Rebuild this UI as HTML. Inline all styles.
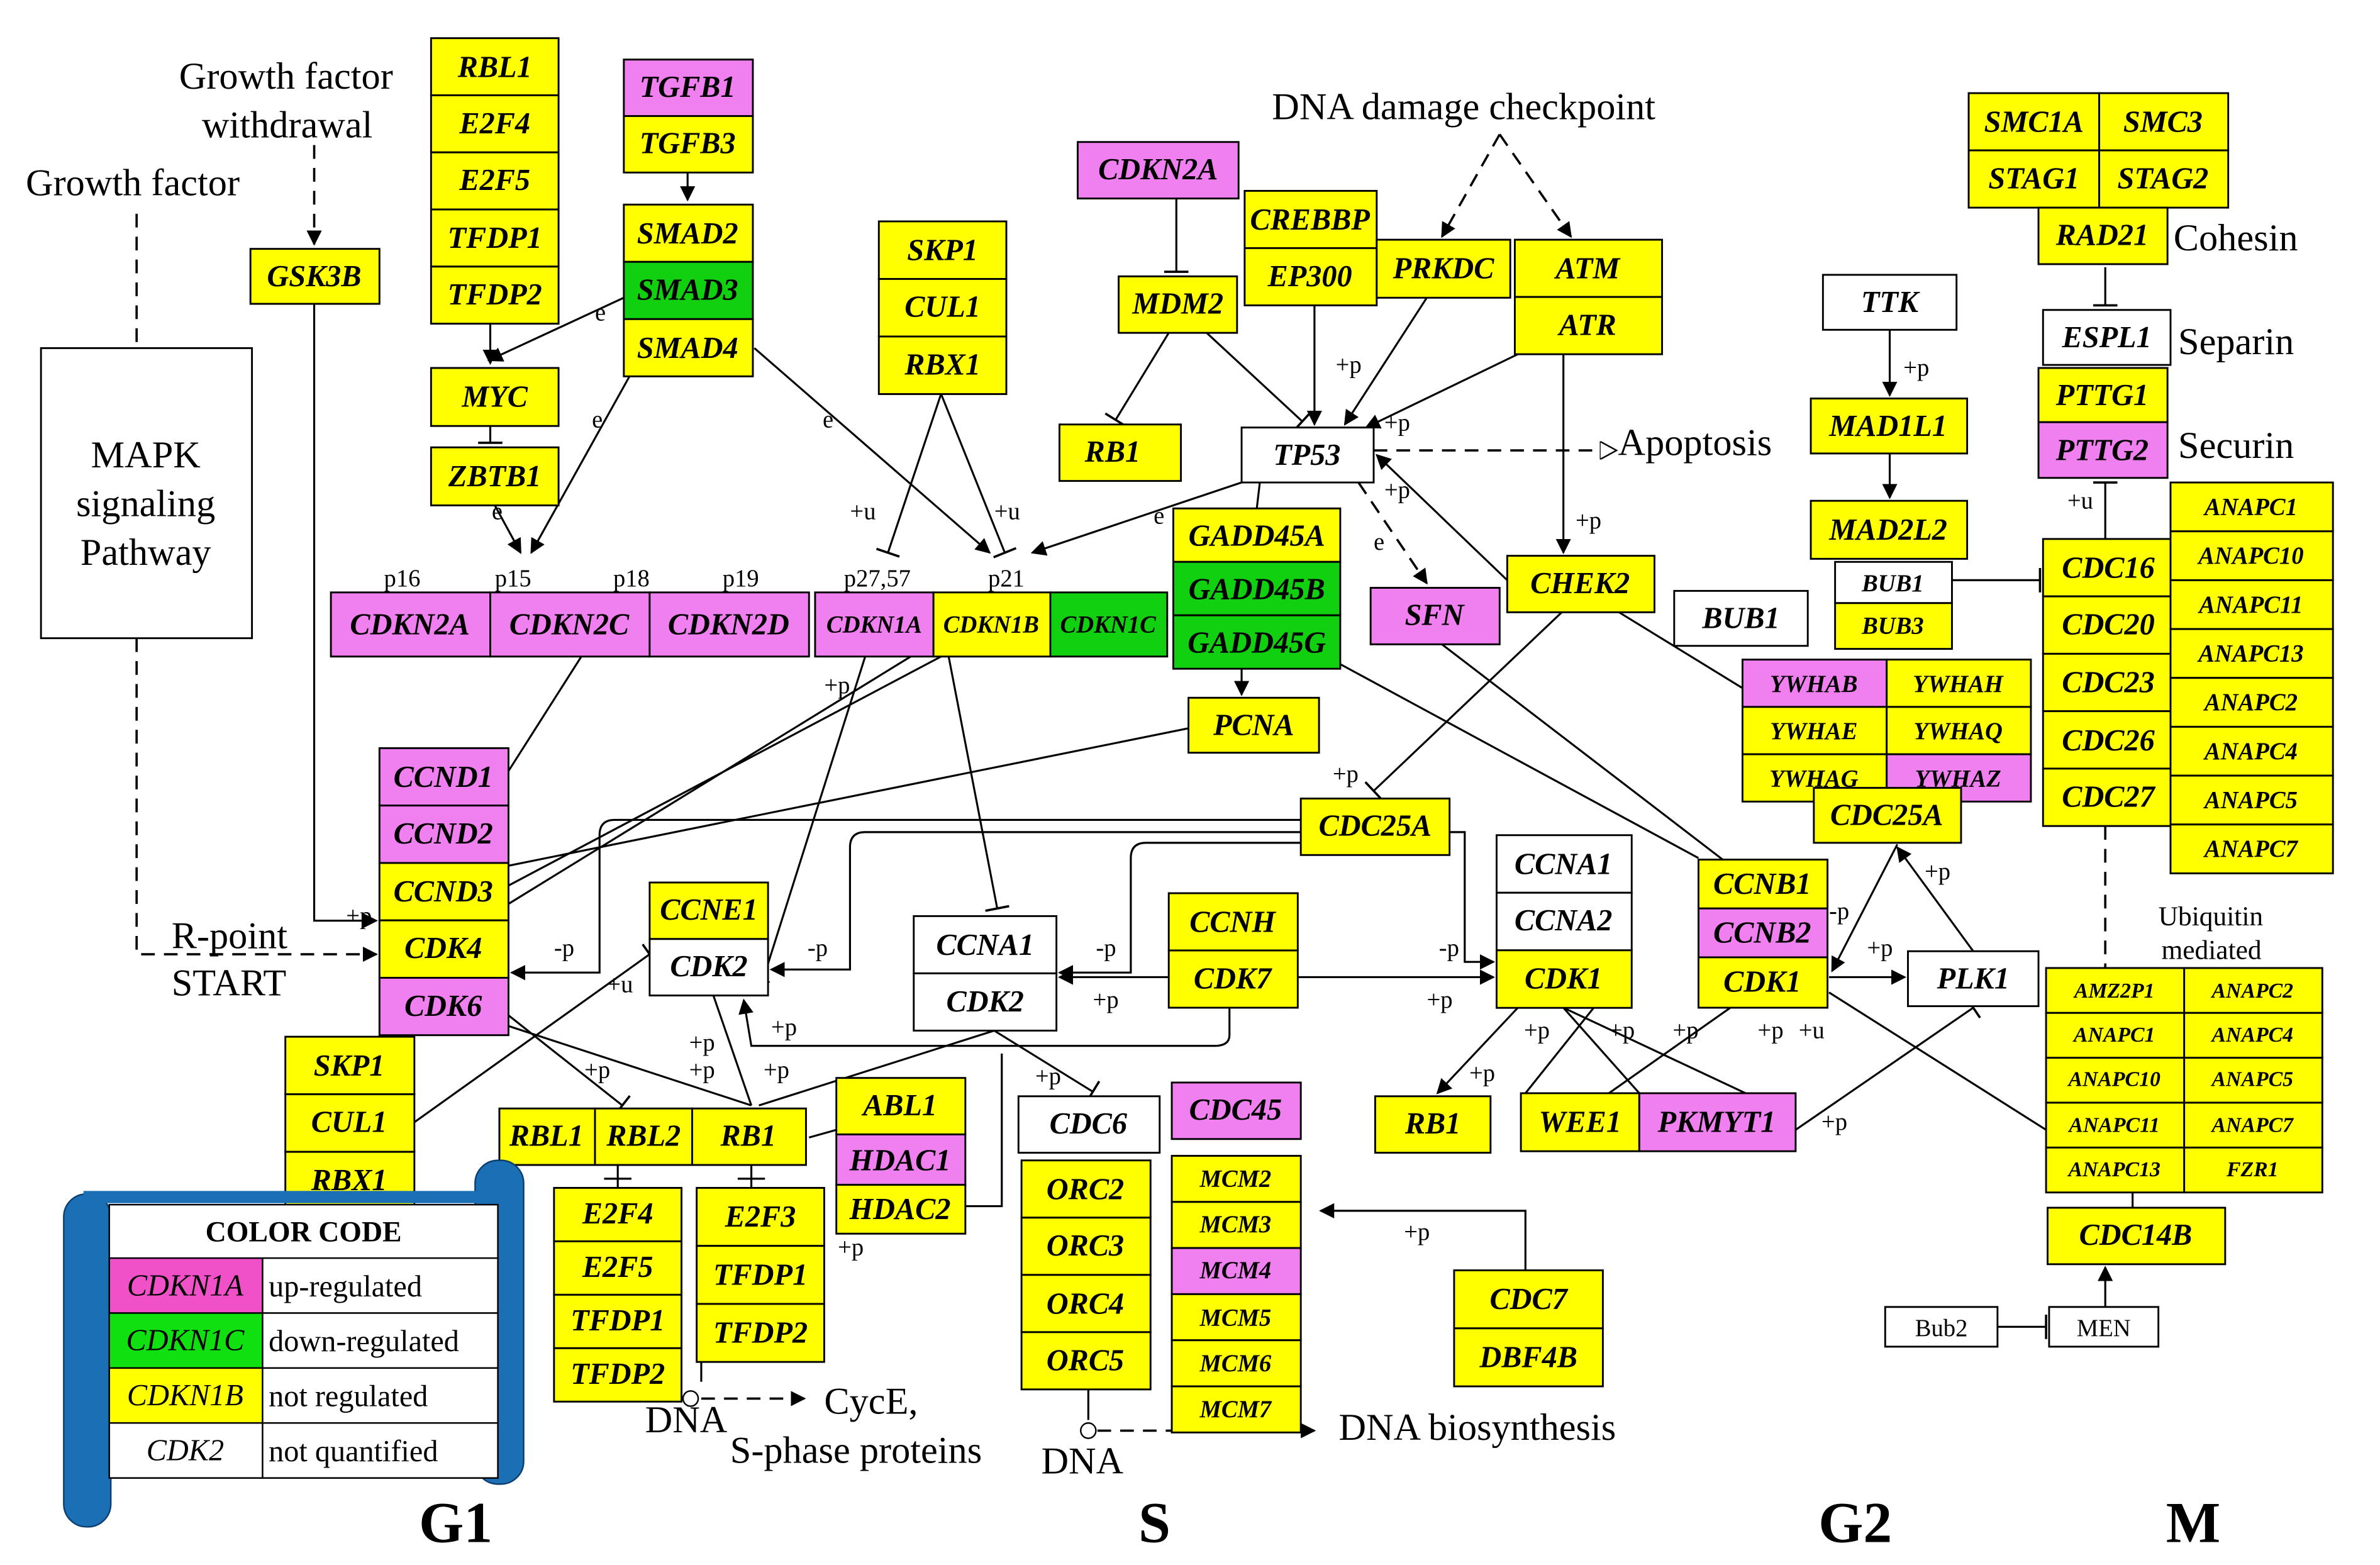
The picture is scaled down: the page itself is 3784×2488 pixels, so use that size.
<!DOCTYPE html>
<html><head><meta charset="utf-8">
<style>
html,body{margin:0;padding:0;background:#fff;}
svg{display:block;}
.b{font-family:"Liberation Serif",serif;font-style:italic;font-weight:bold;font-size:20px;text-anchor:middle;dominant-baseline:central;fill:#000;}
.s{font-size:16px;}
.t{font-family:"Liberation Serif",serif;font-size:25px;fill:#000;}
.l{font-family:"Liberation Serif",serif;font-size:16px;fill:#000;}
.y{fill:#ffff00;stroke:#000;stroke-width:1.2;}
.p{fill:#f080f0;stroke:#000;stroke-width:1.2;}
.g{fill:#10d010;stroke:#000;stroke-width:1.2;}
.w{fill:#fff;stroke:#000;stroke-width:1.2;}
.ln{stroke:#000;stroke-width:1.3;fill:none;}
.d{stroke:#000;stroke-width:1.5;fill:none;stroke-dasharray:9,6;}
</style></head><body>
<svg width="3784" height="2488" viewBox="0 0 1568 1025" preserveAspectRatio="none" xmlns="http://www.w3.org/2000/svg">
<defs>
<marker id="a" markerWidth="10" markerHeight="10" refX="9" refY="5" orient="auto" markerUnits="userSpaceOnUse"><path d="M0,0 L10,5 L0,10 z" fill="#000"/></marker>
<marker id="o" markerWidth="12" markerHeight="12" refX="11" refY="6" orient="auto" markerUnits="userSpaceOnUse"><path d="M0,0 L11,6 L0,12 z" fill="#fff" stroke="#000"/></marker>
<marker id="i" markerWidth="4" markerHeight="16" refX="2" refY="8" orient="auto" markerUnits="userSpaceOnUse"><path d="M2,0 L2,16" stroke="#000" stroke-width="1.5"/></marker>
</defs>
<rect width="1568" height="1025" fill="#fff"/>

<g class="ln">
<path d="M207,199 V603 H248" marker-end="url(#a)"/>
<path d="M323,212 V238" marker-end="url(#a)"/>
<path d="M411,195 L322,236" marker-end="url(#a)"/>
<path d="M323,279 V290" marker-end="url(#i)"/>
<path d="M326,331 L343,362" marker-end="url(#a)"/>
<path d="M415,246 L350,362" marker-end="url(#a)"/>
<path d="M497,228 L652,362" marker-end="url(#a)"/>
<path d="M453,113 V131" marker-end="url(#a)"/>
<path d="M620,258 L585,362" marker-end="url(#i)"/>
<path d="M620,258 L662,362" marker-end="url(#i)"/>
<path d="M818,316 L680,362" marker-end="url(#a)"/>
<path d="M775,130 V178" marker-end="url(#i)"/>
<path d="M770,218 L735,275" marker-end="url(#i)"/>
<path d="M795,218 L858,276" marker-end="url(#i)"/>
<path d="M866,200 V278" marker-end="url(#a)"/>
<path d="M940,195 L886,278" marker-end="url(#a)"/>
<path d="M1000,232 L900,280" marker-end="url(#a)"/>
<path d="M1030,232 V362" marker-end="url(#a)"/>
<path d="M993,380 L907,298" marker-end="url(#a)"/>
<path d="M830,316 L828,333"/>
<path d="M818,438 V455" marker-end="url(#a)"/>
<path d="M950,422 L1135,563"/>
<path d="M1030,400 L905,518" marker-end="url(#i)"/>
<path d="M1065,400 L1160,458"/>
<path d="M883,435 L1119,562"/>
<path d="M620,430 L335,580"/>
<path d="M600,430 L335,592"/>
<path d="M570,430 L500,650" marker-end="url(#a)"/>
<path d="M625,430 L657,595" marker-end="url(#i)"/>
<path d="M783,477 L335,567"/>
<path d="M383,430 L335,505"/>
<path d="M857,537 H405 Q395,537 395,547 V637 H337" marker-end="url(#a)"/>
<path d="M857,545 H570 Q560,545 560,555 V635 H508" marker-end="url(#a)"/>
<path d="M857,552 H755 Q745,552 745,562 V637 H698" marker-end="url(#a)"/>
<path d="M955,545 H965 V630 H984" marker-end="url(#a)"/>
<path d="M855,640 H984" marker-end="url(#a)"/>
<path d="M770,640 H698" marker-end="url(#a)"/>
<path d="M810,660 V678 Q810,685 800,685 H495 L490,655" marker-end="url(#a)"/>
<path d="M335,665 L410,724" marker-end="url(#i)"/>
<path d="M335,672 L495,724"/>
<path d="M470,652 L495,724"/>
<path d="M655,675 L500,724"/>
<path d="M655,675 L720,715" marker-end="url(#i)"/>
<path d="M273,735 L428,625" marker-end="url(#i)"/>
<path d="M1000,660 L947,716" marker-end="url(#a)"/>
<path d="M1030,660 L1080,716"/>
<path d="M1050,660 L1005,716"/>
<path d="M1030,660 L1150,716"/>
<path d="M1140,660 L1060,716"/>
<path d="M1205,640 H1255" marker-end="url(#a)"/>
<path d="M1300,623 L1250,555" marker-end="url(#a)"/>
<path d="M1250,553 L1207,636" marker-end="url(#a)"/>
<path d="M1183,740 L1300,660" marker-end="url(#i)"/>
<path d="M1205,650 L1348,740"/>
<path d="M1245,216 V259" marker-end="url(#a)"/>
<path d="M1245,297 V326" marker-end="url(#a)"/>
<path d="M1286,380 H1344" marker-end="url(#i)"/>
<path d="M1387,175 V200" marker-end="url(#i)"/>
<path d="M1387,353 V316" marker-end="url(#i)"/>
<path d="M1387,856 V830" marker-end="url(#a)"/>
<path d="M1316,869 H1348" marker-end="url(#i)"/>
<path d="M1005,832 V793 H870" marker-end="url(#a)"/>
<path d="M551,740 L533,745"/>
<path d="M636,790 H660 V690"/>
<path d="M407,763 V778"/><path d="M398,772 H416"/>
<path d="M495,763 V778"/><path d="M486,772 H504"/>
<path d="M462,892 V905"/>
<path d="M717,910 V930"/>
<path d="M1405,780 V791"/>
</g>
<g class="d">
<path d="M207,95 V160" marker-end="url(#a)"/>
<path d="M90,140 V228"/>
<path d="M90,418 V625 H248" marker-end="url(#a)"/>
<path d="M988,88 L950,155" marker-end="url(#a)"/>
<path d="M988,88 L1035,155" marker-end="url(#a)"/>
<path d="M905,295 H1065" marker-end="url(#o)"/>
<path d="M895,316 L940,382" marker-end="url(#a)"/>
<path d="M1387,541 V634"/>
<path d="M462,916 H530" marker-end="url(#a)"/>
<path d="M723,937 H866" marker-end="url(#a)"/>
</g>
<circle cx="455" cy="916" r="5" fill="#fff" stroke="#000"/>
<circle cx="717" cy="937" r="5" fill="#fff" stroke="#000"/>

<g class="l">
<text x="392" y="210">e</text><text x="390" y="280">e</text><text x="542" y="280">e</text><text x="324" y="340">e</text>
<text x="560" y="340">+u</text><text x="655" y="340">+u</text><text x="760" y="343">e</text><text x="905" y="360">e</text>
<text x="880" y="244">+p</text><text x="912" y="282">+p</text><text x="912" y="326">+p</text><text x="1038" y="346">+p</text>
<text x="1254" y="246">+p</text><text x="1362" y="333">+u</text>
<text x="543" y="454">+p</text><text x="878" y="512">+p</text>
<text x="228" y="605">+p</text><text x="365" y="626">-p</text><text x="400" y="650">+u</text><text x="532" y="626">-p</text><text x="722" y="626">-p</text>
<text x="720" y="660">+p</text><text x="948" y="626">-p</text><text x="940" y="660">+p</text>
<text x="508" y="678">+p</text><text x="454" y="688">+p</text><text x="454" y="706">+p</text><text x="385" y="706">+p</text><text x="503" y="706">+p</text>
<text x="682" y="710">+p</text><text x="552" y="822">+p</text><text x="925" y="812">+p</text>
<text x="968" y="708">+p</text><text x="1004" y="680">+p</text><text x="1060" y="680">+p</text><text x="1102" y="680">+p</text><text x="1158" y="680">+p</text><text x="1185" y="680">+u</text>
<text x="1200" y="740">+p</text><text x="1205" y="602">-p</text><text x="1230" y="626">+p</text><text x="1268" y="576">+p</text>
<text x="253" y="384">p16</text><text x="326" y="384">p15</text><text x="404" y="384">p18</text><text x="476" y="384">p19</text>
<text x="556" y="384">p27,57</text><text x="651" y="384">p21</text>
</g>

<g class="t">
<text x="118" y="58">Growth factor</text><text x="133" y="90">withdrawal</text>
<text x="17" y="128">Growth factor</text>
<text x="838" y="78">DNA damage checkpoint</text>
<text x="1066" y="298">Apoptosis</text>
<text x="1432" y="164">Cohesin</text><text x="1435" y="232">Separin</text><text x="1435" y="300">Securin</text>
<text x="113" y="621">R-point</text><text x="113" y="652">START</text>
<text x="543" y="926">CycE,</text><text x="481" y="958">S-phase proteins</text>
<text x="425" y="938">DNA</text><text x="686" y="965">DNA</text>
<text x="882" y="943">DNA biosynthesis</text>
</g>
<text class="l" x="1422" y="606" style="font-size:18px">Ubiquitin</text>
<text class="l" x="1424" y="628" style="font-size:18px">mediated</text>

<rect x="27" y="228" width="139" height="190" class="w"/>
<g class="t"><text x="96" y="306" text-anchor="middle">MAPK</text><text x="96" y="338" text-anchor="middle">signaling</text><text x="96" y="370" text-anchor="middle">Pathway</text></g>

<g>
<rect x="165" y="163" width="85" height="36" class="y"/><text class="b" x="207" y="181">GSK3B</text>
<rect x="284" y="25" width="84" height="37.4" class="y"/><text class="b" x="326" y="44">RBL1</text>
<rect x="284" y="62.4" width="84" height="37.4" class="y"/><text class="b" x="326" y="81">E2F4</text>
<rect x="284" y="99.8" width="84" height="37.4" class="y"/><text class="b" x="326" y="118">E2F5</text>
<rect x="284" y="137.2" width="84" height="37.4" class="y"/><text class="b" x="326" y="156">TFDP1</text>
<rect x="284" y="174.6" width="84" height="37.4" class="y"/><text class="b" x="326" y="193">TFDP2</text>
<rect x="411" y="39" width="85" height="37" class="p"/><text class="b" x="453" y="57">TGFB1</text>
<rect x="411" y="76" width="85" height="37" class="y"/><text class="b" x="453" y="94">TGFB3</text>
<rect x="411" y="134" width="85" height="37.5" class="y"/><text class="b" x="453" y="153">SMAD2</text>
<rect x="411" y="171.5" width="85" height="37.5" class="g"/><text class="b" x="453" y="190">SMAD3</text>
<rect x="411" y="209" width="85" height="37.5" class="y"/><text class="b" x="453" y="228">SMAD4</text>
<rect x="284" y="241" width="84" height="38" class="y"/><text class="b" x="326" y="260">MYC</text>
<rect x="284" y="293" width="84" height="38" class="y"/><text class="b" x="326" y="312">ZBTB1</text>
<rect x="218" y="388" width="105" height="42" class="p"/><text class="b" x="270" y="409">CDKN2A</text>
<rect x="323" y="388" width="105" height="42" class="p"/><text class="b" x="375" y="409">CDKN2C</text>
<rect x="428" y="388" width="105" height="42" class="p"/><text class="b" x="480" y="409">CDKN2D</text>
<rect x="537" y="388" width="78" height="42" class="p"/><text class="b s" x="576" y="409">CDKN1A</text>
<rect x="615" y="388" width="77" height="42" class="y"/><text class="b s" x="653" y="409">CDKN1B</text>
<rect x="692" y="388" width="77" height="42" class="g"/><text class="b s" x="730" y="409">CDKN1C</text>
<rect x="579" y="145" width="84" height="37.7" class="y"/><text class="b" x="621" y="164">SKP1</text>
<rect x="579" y="182.7" width="84" height="37.7" class="y"/><text class="b" x="621" y="201">CUL1</text>
<rect x="579" y="220.4" width="84" height="37.7" class="y"/><text class="b" x="621" y="239">RBX1</text>
<rect x="710" y="93" width="106" height="37" class="p"/><text class="b" x="763" y="111">CDKN2A</text>
<rect x="737" y="181" width="78" height="37" class="y"/><text class="b" x="776" y="199">MDM2</text>
<rect x="698" y="278" width="80" height="37" class="y"/><text class="b" x="733" y="296">RB1</text>
<rect x="820" y="125" width="87" height="37.5" class="y"/><text class="b" x="863" y="144">CREBBP</text>
<rect x="820" y="162.5" width="87" height="37.5" class="y"/><text class="b" x="863" y="181">EP300</text>
<rect x="907" y="157" width="88" height="38" class="y"/><text class="b" x="951" y="176">PRKDC</text>
<rect x="998" y="157" width="97" height="37.5" class="y"/><text class="b" x="1046" y="176">ATM</text>
<rect x="998" y="194.5" width="97" height="37.5" class="y"/><text class="b" x="1046" y="213">ATR</text>
<rect x="818" y="280" width="87" height="36" class="w"/><text class="b" x="861" y="298">TP53</text>
<rect x="773" y="333" width="110" height="35" class="y"/><text class="b" x="828" y="351">GADD45A</text>
<rect x="773" y="368" width="110" height="35" class="g"/><text class="b" x="828" y="386">GADD45B</text>
<rect x="773" y="403" width="110" height="35" class="g"/><text class="b" x="828" y="421">GADD45G</text>
<rect x="903" y="385" width="85" height="37" class="p"/><text class="b" x="945" y="403">SFN</text>
<rect x="993" y="364" width="97" height="37" class="y"/><text class="b" x="1041" y="382">CHEK2</text>
<rect x="783" y="457" width="86" height="36" class="y"/><text class="b" x="826" y="475">PCNA</text>
<rect x="250" y="490" width="85" height="37.6" class="p"/><text class="b" x="292" y="509">CCND1</text>
<rect x="250" y="527.6" width="85" height="37.6" class="p"/><text class="b" x="292" y="546">CCND2</text>
<rect x="250" y="565.2" width="85" height="37.6" class="y"/><text class="b" x="292" y="584">CCND3</text>
<rect x="250" y="602.8" width="85" height="37.6" class="y"/><text class="b" x="292" y="621">CDK4</text>
<rect x="250" y="640.4" width="85" height="37.6" class="p"/><text class="b" x="292" y="659">CDK6</text>
<rect x="188" y="679" width="85" height="37.7" class="y"/><text class="b" x="230" y="698">SKP1</text>
<rect x="188" y="716.7" width="85" height="37.7" class="y"/><text class="b" x="230" y="735">CUL1</text>
<rect x="188" y="754.4" width="85" height="37.7" class="y"/><text class="b" x="230" y="773">RBX1</text>
<rect x="428" y="578" width="78" height="37" class="y"/><text class="b" x="467" y="596">CCNE1</text>
<rect x="428" y="615" width="78" height="37" class="w"/><text class="b" x="467" y="633">CDK2</text>
<rect x="602" y="600" width="94" height="37.5" class="w"/><text class="b" x="649" y="619">CCNA1</text>
<rect x="602" y="637.5" width="94" height="37.5" class="w"/><text class="b" x="649" y="656">CDK2</text>
<rect x="770" y="585" width="85" height="37.5" class="y"/><text class="b" x="812" y="604">CCNH</text>
<rect x="770" y="622.5" width="85" height="37.5" class="y"/><text class="b" x="812" y="641">CDK7</text>
<rect x="857" y="523" width="98" height="37" class="y"/><text class="b" x="906" y="541">CDC25A</text>
<rect x="986" y="547" width="89" height="37.7" class="w"/><text class="b" x="1030" y="566">CCNA1</text>
<rect x="986" y="584.7" width="89" height="37.7" class="w"/><text class="b" x="1030" y="603">CCNA2</text>
<rect x="986" y="622.4" width="89" height="37.7" class="y"/><text class="b" x="1030" y="641">CDK1</text>
<rect x="1119" y="563" width="85" height="32" class="y"/><text class="b" x="1161" y="579">CCNB1</text>
<rect x="1119" y="595" width="85" height="32" class="p"/><text class="b" x="1161" y="611">CCNB2</text>
<rect x="1119" y="627" width="85" height="33" class="y"/><text class="b" x="1161" y="643">CDK1</text>
<rect x="1257" y="623" width="86" height="36" class="w"/><text class="b" x="1300" y="641">PLK1</text>
<rect x="906" y="718" width="76" height="37" class="y"/><text class="b" x="944" y="736">RB1</text>
<rect x="1002" y="716" width="78" height="38" class="y"/><text class="b" x="1041" y="735">WEE1</text>
<rect x="1080" y="716" width="103" height="38" class="p"/><text class="b" x="1131" y="735">PKMYT1</text>
<rect x="329" y="726" width="63" height="37" class="y"/><text class="b" x="360" y="744">RBL1</text>
<rect x="392" y="726" width="64" height="37" class="y"/><text class="b" x="424" y="744">RBL2</text>
<rect x="456" y="726" width="75" height="37" class="y"/><text class="b" x="493" y="744">RB1</text>
<rect x="365" y="778" width="84" height="35" class="y"/><text class="b" x="407" y="795">E2F4</text>
<rect x="365" y="813" width="84" height="35" class="y"/><text class="b" x="407" y="830">E2F5</text>
<rect x="365" y="848" width="84" height="35" class="y"/><text class="b" x="407" y="865">TFDP1</text>
<rect x="365" y="883" width="84" height="35" class="y"/><text class="b" x="407" y="900">TFDP2</text>
<rect x="459" y="778" width="84" height="38" class="y"/><text class="b" x="501" y="797">E2F3</text>
<rect x="459" y="816" width="84" height="38" class="y"/><text class="b" x="501" y="835">TFDP1</text>
<rect x="459" y="854" width="84" height="38" class="y"/><text class="b" x="501" y="873">TFDP2</text>
<rect x="551" y="706" width="85" height="37" class="y"/><text class="b" x="593" y="724">ABL1</text>
<rect x="551" y="743" width="85" height="33" class="p"/><text class="b" x="593" y="760">HDAC1</text>
<rect x="551" y="776" width="85" height="32" class="y"/><text class="b" x="593" y="792">HDAC2</text>
<rect x="671" y="718" width="93" height="37" class="w"/><text class="b" x="717" y="736">CDC6</text>
<rect x="673" y="760" width="85" height="37.5" class="y"/><text class="b" x="715" y="779">ORC2</text>
<rect x="673" y="797.5" width="85" height="37.5" class="y"/><text class="b" x="715" y="816">ORC3</text>
<rect x="673" y="835" width="85" height="37.5" class="y"/><text class="b" x="715" y="854">ORC4</text>
<rect x="673" y="872.5" width="85" height="37.5" class="y"/><text class="b" x="715" y="891">ORC5</text>
<rect x="772" y="709" width="85" height="37" class="p"/><text class="b" x="814" y="727">CDC45</text>
<rect x="772" y="757" width="85" height="30.2" class="y"/><text class="b s" x="814" y="772">MCM2</text>
<rect x="772" y="787.2" width="85" height="30.2" class="y"/><text class="b s" x="814" y="802">MCM3</text>
<rect x="772" y="817.4" width="85" height="30.2" class="p"/><text class="b s" x="814" y="832">MCM4</text>
<rect x="772" y="847.6" width="85" height="30.2" class="y"/><text class="b s" x="814" y="863">MCM5</text>
<rect x="772" y="877.8" width="85" height="30.2" class="y"/><text class="b s" x="814" y="893">MCM6</text>
<rect x="772" y="908" width="85" height="30.2" class="y"/><text class="b s" x="814" y="923">MCM7</text>
<rect x="958" y="832" width="98" height="38" class="y"/><text class="b" x="1007" y="851">CDC7</text>
<rect x="958" y="870" width="98" height="38" class="y"/><text class="b" x="1007" y="889">DBF4B</text>
<rect x="1297" y="61" width="86" height="37.5" class="y"/><text class="b" x="1340" y="80">SMC1A</text>
<rect x="1383" y="61" width="85" height="37.5" class="y"/><text class="b" x="1425" y="80">SMC3</text>
<rect x="1297" y="98.5" width="86" height="37.5" class="y"/><text class="b" x="1340" y="117">STAG1</text>
<rect x="1383" y="98.5" width="85" height="37.5" class="y"/><text class="b" x="1425" y="117">STAG2</text>
<rect x="1343" y="136" width="85" height="37" class="y"/><text class="b" x="1385" y="154">RAD21</text>
<rect x="1201" y="180" width="88" height="36" class="w"/><text class="b" x="1245" y="198">TTK</text>
<rect x="1346" y="203" width="84" height="36" class="w"/><text class="b" x="1388" y="221">ESPL1</text>
<rect x="1343" y="241" width="85" height="35.5" class="y"/><text class="b" x="1385" y="259">PTTG1</text>
<rect x="1343" y="276.5" width="85" height="36.5" class="p"/><text class="b" x="1385" y="295">PTTG2</text>
<rect x="1193" y="261" width="103" height="36" class="y"/><text class="b" x="1244" y="279">MAD1L1</text>
<rect x="1193" y="328" width="103" height="38" class="y"/><text class="b" x="1244" y="347">MAD2L2</text>
<rect x="1209" y="368" width="77" height="27" class="w"/><text class="b s" x="1247" y="382">BUB1</text>
<rect x="1209" y="395" width="77" height="30" class="y"/><text class="b s" x="1247" y="410">BUB3</text>
<rect x="1103" y="387" width="88" height="36" class="w"/><text class="b" x="1147" y="405">BUB1</text>
<rect x="1148" y="432" width="95" height="31" class="p"/><text class="b s" x="1195" y="448">YWHAB</text>
<rect x="1243" y="432" width="95" height="31" class="y"/><text class="b s" x="1290" y="448">YWHAH</text>
<rect x="1148" y="463" width="95" height="31" class="y"/><text class="b s" x="1195" y="479">YWHAE</text>
<rect x="1243" y="463" width="95" height="31" class="y"/><text class="b s" x="1290" y="479">YWHAQ</text>
<rect x="1148" y="494" width="95" height="31" class="y"/><text class="b s" x="1195" y="510">YWHAG</text>
<rect x="1243" y="494" width="95" height="31" class="p"/><text class="b s" x="1290" y="510">YWHAZ</text>
<rect x="1195" y="516" width="97" height="36" class="y"/><text class="b" x="1243" y="534">CDC25A</text>
<rect x="1346" y="353" width="86" height="37.6" class="y"/><text class="b" x="1389" y="372">CDC16</text>
<rect x="1346" y="390.6" width="86" height="37.6" class="y"/><text class="b" x="1389" y="409">CDC20</text>
<rect x="1346" y="428.2" width="86" height="37.6" class="y"/><text class="b" x="1389" y="447">CDC23</text>
<rect x="1346" y="465.8" width="86" height="37.6" class="y"/><text class="b" x="1389" y="485">CDC26</text>
<rect x="1346" y="503.4" width="86" height="37.6" class="y"/><text class="b" x="1389" y="522">CDC27</text>
<rect x="1430" y="316" width="107" height="32" class="y"/><text class="b s" x="1483" y="332">ANAPC1</text>
<rect x="1430" y="348" width="107" height="32" class="y"/><text class="b s" x="1483" y="364">ANAPC10</text>
<rect x="1430" y="380" width="107" height="32" class="y"/><text class="b s" x="1483" y="396">ANAPC11</text>
<rect x="1430" y="412" width="107" height="32" class="y"/><text class="b s" x="1483" y="428">ANAPC13</text>
<rect x="1430" y="444" width="107" height="32" class="y"/><text class="b s" x="1483" y="460">ANAPC2</text>
<rect x="1430" y="476" width="107" height="32" class="y"/><text class="b s" x="1483" y="492">ANAPC4</text>
<rect x="1430" y="508" width="107" height="32" class="y"/><text class="b s" x="1483" y="524">ANAPC5</text>
<rect x="1430" y="540" width="107" height="32" class="y"/><text class="b s" x="1483" y="556">ANAPC7</text>
<rect x="1348" y="634" width="91" height="29.4" class="y"/><text class="b" style="font-size:14px" x="1393" y="649">AMZ2P1</text>
<rect x="1439" y="634" width="91" height="29.4" class="y"/><text class="b" style="font-size:14px" x="1484" y="649">ANAPC2</text>
<rect x="1348" y="663.4" width="91" height="29.4" class="y"/><text class="b" style="font-size:14px" x="1393" y="678">ANAPC1</text>
<rect x="1439" y="663.4" width="91" height="29.4" class="y"/><text class="b" style="font-size:14px" x="1484" y="678">ANAPC4</text>
<rect x="1348" y="692.8" width="91" height="29.4" class="y"/><text class="b" style="font-size:14px" x="1393" y="707">ANAPC10</text>
<rect x="1439" y="692.8" width="91" height="29.4" class="y"/><text class="b" style="font-size:14px" x="1484" y="707">ANAPC5</text>
<rect x="1348" y="722.2" width="91" height="29.4" class="y"/><text class="b" style="font-size:14px" x="1393" y="737">ANAPC11</text>
<rect x="1439" y="722.2" width="91" height="29.4" class="y"/><text class="b" style="font-size:14px" x="1484" y="737">ANAPC7</text>
<rect x="1348" y="751.6" width="91" height="29.4" class="y"/><text class="b" style="font-size:14px" x="1393" y="766">ANAPC13</text>
<rect x="1439" y="751.6" width="91" height="29.4" class="y"/><text class="b" style="font-size:14px" x="1484" y="766">FZR1</text>
<rect x="1349" y="791" width="117" height="37" class="y"/><text class="b" x="1407" y="809">CDC14B</text>
<rect x="1242" y="856" width="74" height="26" class="w"/><text class="l" x="1279" y="875" text-anchor="middle">Bub2</text>
<rect x="1350" y="856" width="72" height="26" class="w"/><text class="l" x="1386" y="875" text-anchor="middle">MEN</text>
</g>

<!-- legend -->
<rect x="42" y="782" width="31" height="218" rx="15" fill="#1a6fb5" stroke="#0c3f70"/>
<rect x="313" y="760" width="32" height="212" rx="15" fill="#1a6fb5" stroke="#0c3f70"/>
<rect x="55" y="780" width="275" height="8" fill="#1a6fb5"/>
<rect x="72" y="789" width="256" height="179" fill="#fff" stroke="#000"/>
<text x="200" y="813" style="font-family:'Liberation Serif',serif;font-weight:bold;font-size:19px" text-anchor="middle">COLOR CODE</text>
<rect x="72" y="824" width="101" height="36" fill="#f050c8" stroke="#000"/><rect x="173" y="824" width="155" height="36" fill="#fff" stroke="#000"/>
<rect x="72" y="860" width="101" height="36" fill="#10e010" stroke="#000"/><rect x="173" y="860" width="155" height="36" fill="#fff" stroke="#000"/>
<rect x="72" y="896" width="101" height="36" fill="#ffff00" stroke="#000"/><rect x="173" y="896" width="155" height="36" fill="#fff" stroke="#000"/>
<rect x="72" y="932" width="101" height="36" fill="#fff" stroke="#000"/><rect x="173" y="932" width="155" height="36" fill="#fff" stroke="#000"/>
<text class="b" x="122" y="842" style="font-weight:normal">CDKN1A</text>
<text class="b" x="122" y="878" style="font-weight:normal">CDKN1C</text>
<text class="b" x="122" y="914" style="font-weight:normal">CDKN1B</text>
<text class="b" x="122" y="950" style="font-weight:normal">CDK2</text>
<g style="font-family:'Liberation Serif',serif;font-size:20px">
<text x="177" y="849">up-regulated</text><text x="177" y="885">down-regulated</text><text x="177" y="921">not regulated</text><text x="177" y="957">not quantified</text>
</g>

<g style="font-family:'Liberation Serif',serif;font-weight:bold;font-size:38px">
<text x="276" y="1010">G1</text><text x="750" y="1010">S</text><text x="1198" y="1010">G2</text><text x="1427" y="1010">M</text>
</g>
</svg>
</body></html>
